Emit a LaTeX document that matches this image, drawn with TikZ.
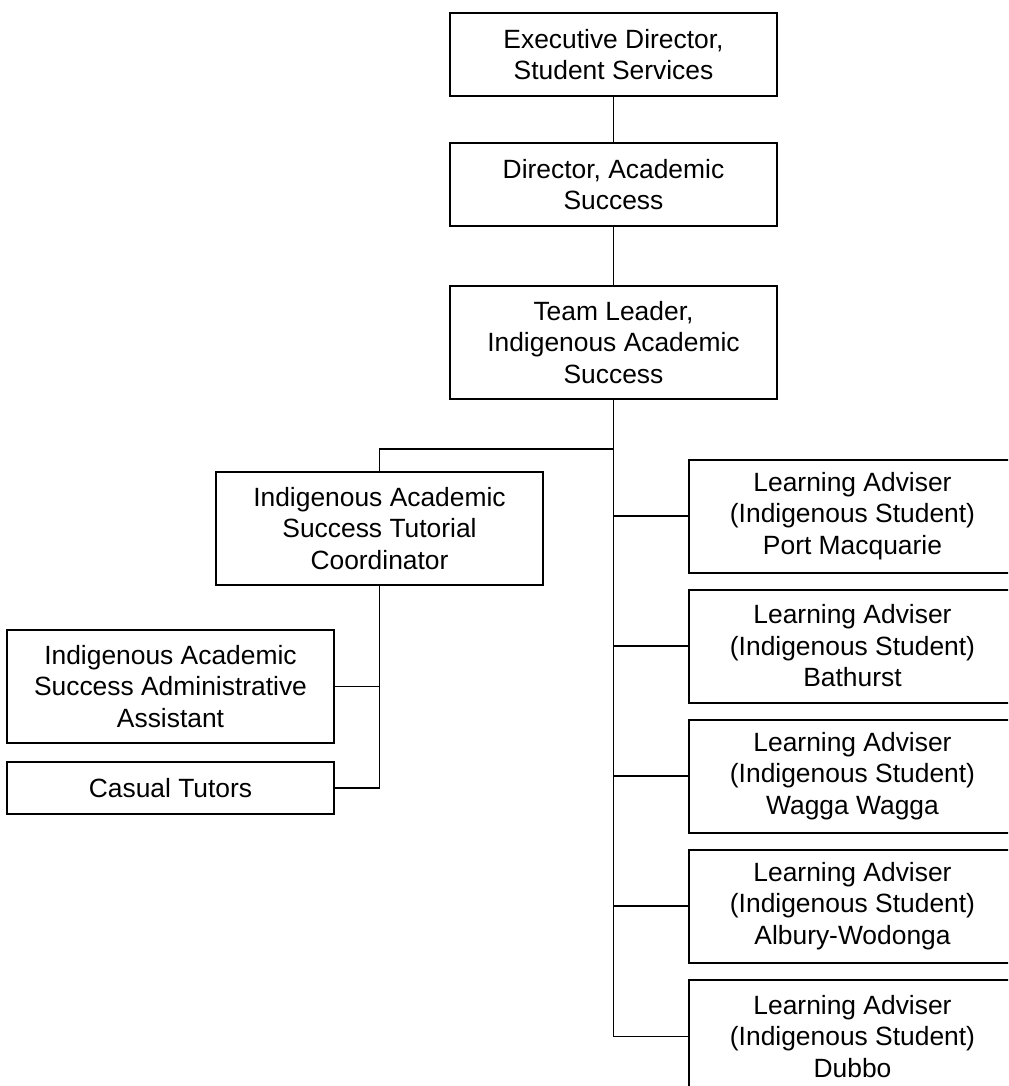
\documentclass[tikz,border=0pt]{standalone}
\usepackage{fontspec}
\setmainfont{Liberation Sans}
\usepackage{tikz}

\begin{document}
\begin{tikzpicture}[x=0.75pt, y=-0.75pt,
  box/.style={draw, line width=1.5pt, align=center, inner sep=0pt,
    minimum width=245.25pt, minimum height=84.75pt,
    font=\fontsize{19.8}{23.6}\selectfont},
  link/.style={draw, line width=0.8pt}]

\useasboundingbox (0,0) rectangle (1008,1086);
\clip (0,0) rectangle (1008,1086);

% top of the chart

\node[box, minimum height=62.25pt] (exec) at (613.5, 54.5) {Executive Director,\\ Student Services};
\node[box, minimum height=62.25pt] (dir) at (613.5, 184.5) {Director, Academic\\ Success};
\node[box] (lead) at (613.5, 342.5) {Team Leader,\\ Indigenous Academic\\ Success};

% tutorial side

\node[box] (coord) at (379.5, 528.5) {Indigenous Academic\\ Success Tutorial\\ Coordinator};
\node[box] (admin) at (170.5, 686.5) {Indigenous Academic\\ Success Administrative\\ Assistant};
\node[box, minimum height=39pt] (tutors) at (170.5, 788) {Casual Tutors};

% learning advisers

\node[box] (la1) at (852.5, 516) {Learning Adviser\\ (Indigenous Student)\\ Port Macquarie};
\node[box] (la2) at (852.5, 646) {Learning Adviser\\ (Indigenous Student)\\ Bathurst};
\node[box] (la3) at (852.5, 776) {Learning Adviser\\ (Indigenous Student)\\ Wagga Wagga};
\node[box] (la4) at (852.5, 906) {Learning Adviser\\ (Indigenous Student)\\ Albury-Wodonga};
\node[box] (la5) at (852.5, 1036.5) {Learning Adviser\\ (Indigenous Student)\\ Dubbo};

\coordinate (split) at (613.5, 449);

% top -> lead
\draw [link] (exec) -- (dir);
\draw [link] (dir) -- (lead);

% lead -> coord, advisers
\draw [link] (lead.south) -- (split) -| (coord.north);
\draw [link] (lead.south) |- (la1.west) (lead.south) |- (la2.west) (lead.south) |- (la3.west);
\draw [link] (lead.south) |- (la4.west) (lead.south) |- (la5.west);

% coord -> admin, tutors
\draw [link] (coord.south) |- (admin.east) (coord.south) |- (tutors.east);

\end{tikzpicture}
\end{document}
